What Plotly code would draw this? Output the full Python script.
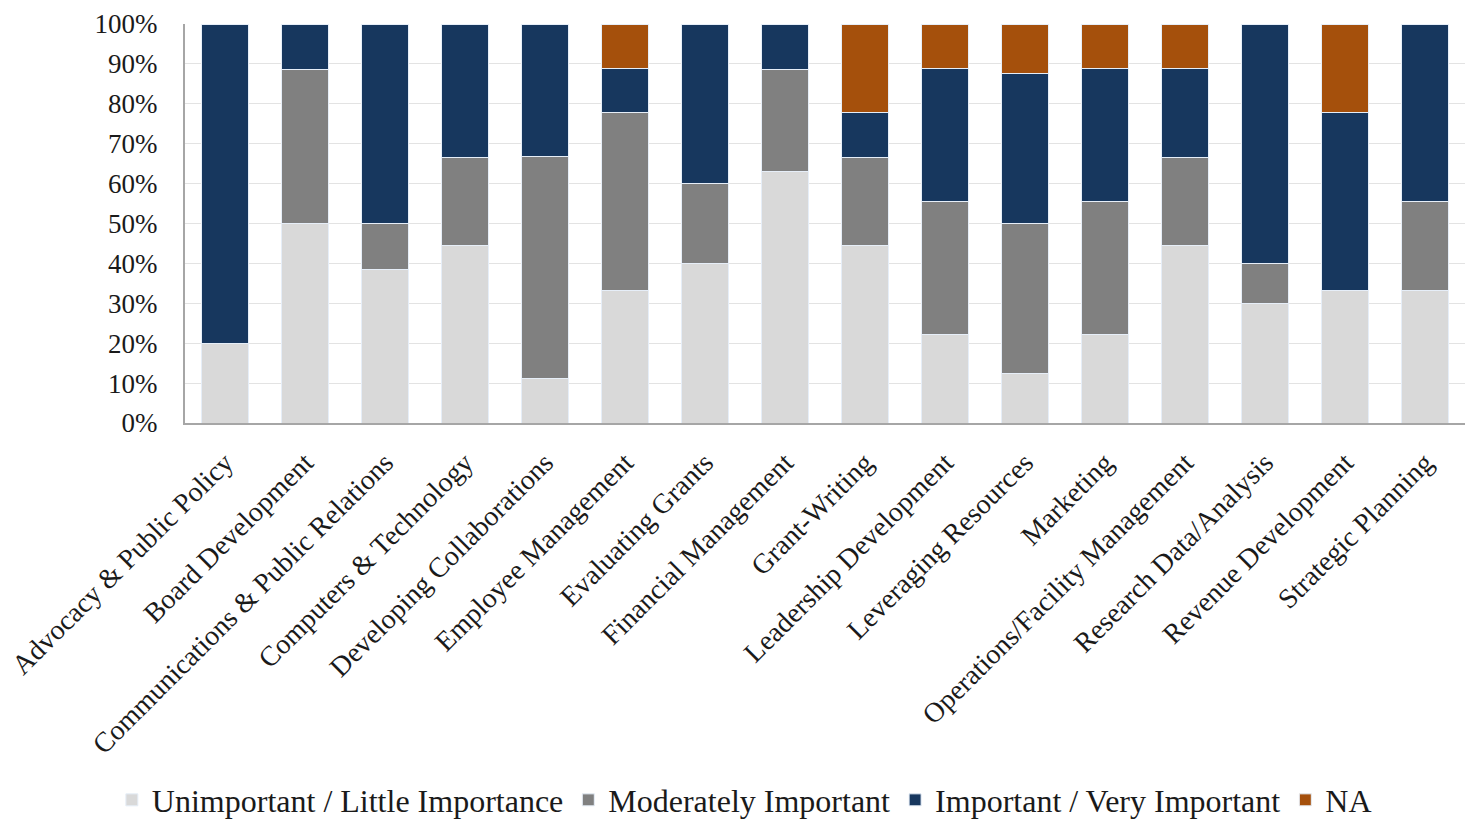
import plotly.graph_objects as go

categories = [
    "Advocacy & Public Policy", "Board Development", "Communications & Public Relations",
    "Computers & Technology", "Developing Collaborations", "Employee Management",
    "Evaluating Grants", "Financial Management", "Grant-Writing", "Leadership Development",
    "Leveraging Resources", "Marketing", "Operations/Facility Management",
    "Research Data/Analysis", "Revenue Development", "Strategic Planning",
]

unimportant = [20.0, 50.0, 38.5, 44.4, 11.1, 33.3, 40.0, 63.0, 44.4, 22.2, 12.5, 22.2, 44.4, 30.0, 33.3, 33.3]
moderate    = [0.0, 38.5, 11.5, 22.2, 55.6, 44.4, 20.0, 25.5, 22.2, 33.3, 37.5, 33.3, 22.2, 10.0, 0.0, 22.2]
important   = [80.0, 11.5, 50.0, 33.3, 33.3, 11.1, 40.0, 11.5, 11.1, 33.3, 37.5, 33.4, 22.3, 60.0, 44.5, 44.5]
na          = [0.0, 0.0, 0.0, 0.0, 0.0, 11.1, 0.0, 0.0, 22.2, 11.1, 12.5, 11.1, 11.1, 0.0, 22.2, 0.0]

series = [
    ("Unimportant / Little Importance", unimportant, "#D9D9D9"),
    ("Moderately Important", moderate, "#808080"),
    ("Important / Very Important", important, "#17375E"),
    ("NA", na, "#A5500C"),
]

FONT = "Liberation Serif"

fig = go.Figure()
for name, vals, color in series:
    fig.add_trace(go.Bar(
        name=name, x=categories, y=vals,
        marker=dict(color=color, line=dict(color="#E6EEF8", width=1)),
    ))

fig.update_layout(
    barmode="stack",
    bargap=0.42,
    width=1472, height=819,
    margin=dict(l=185, r=7, t=24, b=396, autoexpand=False),
    paper_bgcolor="white", plot_bgcolor="white",
    font=dict(family=FONT, size=26, color="#1a1a1a"),
    showlegend=True,
    legend=dict(
        orientation="h", traceorder="normal",
        x=0.437, xanchor="center", y=-0.945, yanchor="middle",
        font=dict(family=FONT, size=32, color="#1a1a1a"),
        tracegroupgap=0,
    ),
    xaxis=dict(
        tickangle=-45, tickfont=dict(family=FONT, size=28, color="#1a1a1a"),
        showline=True, linecolor="#A6A6A6", linewidth=2, automargin=False,
        showgrid=False, ticks="", ticklabelstandoff=10,
    ),
    yaxis=dict(
        range=[0, 100], dtick=10, ticksuffix="%",
        tickfont=dict(family=FONT, size=27, color="#1a1a1a"),
        showgrid=True, gridcolor="#E3E3E3", gridwidth=1,
        showline=True, linecolor="#A6A6A6", linewidth=2, automargin=False,
        ticks="", zeroline=False, ticklabelstandoff=20,
    ),
)

fig.write_html("out.html")
